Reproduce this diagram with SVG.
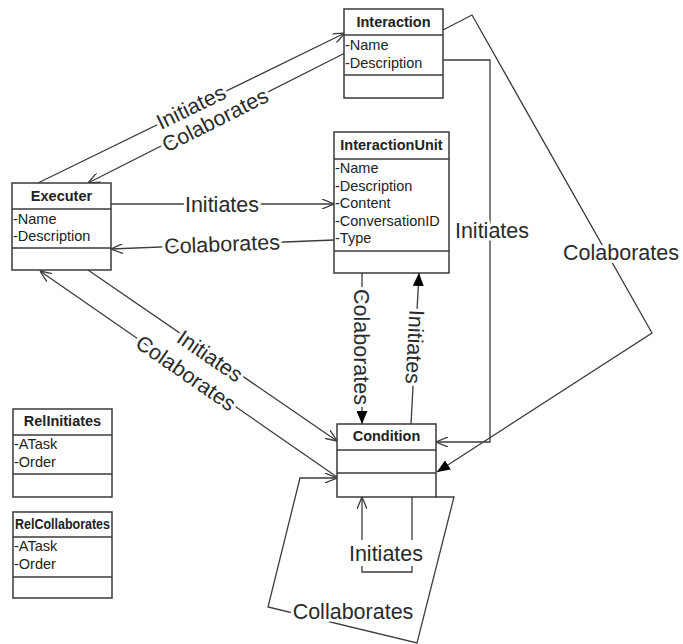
<svg xmlns="http://www.w3.org/2000/svg" width="683" height="644" viewBox="0 0 683 644">
<style>
.box{fill:#fff;stroke:#3a3a3a;stroke-width:1.5}
.div{stroke:#3a3a3a;stroke-width:1.5}
.hd{font-family:"Liberation Sans",Arial,sans-serif;font-weight:bold;font-size:14.5px;fill:#222;text-anchor:middle}
.at{font-family:"Liberation Sans",Arial,sans-serif;font-size:14.5px;fill:#222}
.ln{fill:none;stroke:#3c3c3c;stroke-width:1.3}
.lb{font-family:"Liberation Sans",Arial,sans-serif;font-size:21.5px;fill:#2a2a2a;text-anchor:middle;stroke:#fff;stroke-width:6;paint-order:stroke;stroke-linejoin:round}
</style>
<defs>
<marker id="open" viewBox="0 0 12 10" refX="12" refY="5" markerWidth="12" markerHeight="10" markerUnits="userSpaceOnUse" orient="auto"><path d="M0,0 L12,5 L0,10" fill="none" stroke="#3c3c3c" stroke-width="1.3"/></marker>
<marker id="fill" viewBox="0 0 13 11" refX="13" refY="5.5" markerWidth="13" markerHeight="11" markerUnits="userSpaceOnUse" orient="auto"><path d="M0,0 L13,5.5 L0,11 Z" fill="#000"/></marker>
</defs>
<rect width="683" height="644" fill="#fff"/>

<g id="connectors">
<path class="ln" d="M38,183 L345,33" marker-end="url(#open)"/>
<path class="ln" d="M345,53 L88,183" marker-end="url(#open)"/>
<path class="ln" d="M111,204 L334,204" marker-end="url(#open)"/>
<path class="ln" d="M334,240 L111,249" marker-end="url(#open)"/>
<path class="ln" d="M88,270 L337,441" marker-end="url(#open)"/>
<path class="ln" d="M337,477 L40,271" marker-end="url(#open)"/>
<path class="ln" d="M362,273 L362,424" marker-end="url(#fill)"/>
<path class="ln" d="M411,424 L419,273" marker-end="url(#fill)"/>
<path class="ln" d="M443,60 L490,60 L490,442 L436,442" marker-end="url(#open)"/>
<path class="ln" d="M443,30 L472,15 L652,333 L437,472" marker-end="url(#fill)"/>
<path class="ln" d="M412,497 L412,540"/>
<path class="ln" d="M412,566 L412,572 L362,572 L362,566"/>
<path class="ln" d="M362,540 L362,497" marker-end="url(#open)"/>
<path class="ln" d="M436,497 L454,497 L417,643 L268,607 L300,478 L337,478" marker-end="url(#open)"/>

<text class="lb" transform="translate(191,107) rotate(-26)" dy="0.35em">Initiates</text>
<text class="lb" transform="translate(215,120) rotate(-26.8)" dy="0.35em">Colaborates</text>
<text class="lb" x="222" y="204" dy="0.35em">Initiates</text>
<text class="lb" transform="translate(222,244) rotate(-2.3)" dy="0.35em">Colaborates</text>
<text class="lb" transform="translate(210,356) rotate(34.5)" dy="0.35em">Initiates</text>
<text class="lb" transform="translate(186,373) rotate(34.7)" dy="0.35em">Colaborates</text>
<text class="lb" transform="translate(362,347) rotate(90)" dy="0.35em">Colaborates</text>
<text class="lb" transform="translate(415,347) rotate(93)" dy="0.35em">Initiates</text>
<text class="lb" x="492" y="230" dy="0.35em">Initiates</text>
<text class="lb" x="621" y="252" dy="0.35em">Colaborates</text>
<text class="lb" x="386" y="553" dy="0.35em">Initiates</text>
<text class="lb" x="353" y="611" dy="0.35em">Collaborates</text>
</g>

<g id="interaction">
<rect class="box" x="344" y="9" width="99" height="89"/>
<line class="div" x1="344" y1="35" x2="443" y2="35"/>
<line class="div" x1="344" y1="75" x2="443" y2="75"/>
<text class="hd" x="393.5" y="27">Interaction</text>
<text class="at" x="345" y="50">-Name</text>
<text class="at" x="345" y="68">-Description</text>
</g>

<g id="interactionunit">
<rect class="box" x="334" y="132" width="115" height="141"/>
<line class="div" x1="334" y1="159" x2="449" y2="159"/>
<line class="div" x1="334" y1="251" x2="449" y2="251"/>
<text class="hd" x="391.5" y="150">InteractionUnit</text>
<text class="at" x="335" y="173">-Name</text>
<text class="at" x="335" y="190.5">-Description</text>
<text class="at" x="335" y="208">-Content</text>
<text class="at" x="335" y="225.5">-ConversationID</text>
<text class="at" x="335" y="243">-Type</text>
</g>

<g id="executer">
<rect class="box" x="12" y="183" width="99" height="87"/>
<line class="div" x1="12" y1="209" x2="111" y2="209"/>
<line class="div" x1="12" y1="248" x2="111" y2="248"/>
<text class="hd" x="61.5" y="201">Executer</text>
<text class="at" x="13" y="224">-Name</text>
<text class="at" x="13" y="241">-Description</text>
</g>

<g id="condition">
<rect class="box" x="337" y="424" width="99" height="73"/>
<line class="div" x1="337" y1="450" x2="436" y2="450"/>
<line class="div" x1="337" y1="473" x2="436" y2="473"/>
<text class="hd" x="386.5" y="441">Condition</text>
</g>

<g id="relinitiates">
<rect class="box" x="13" y="409" width="99" height="88"/>
<line class="div" x1="13" y1="435" x2="112" y2="435"/>
<line class="div" x1="13" y1="474" x2="112" y2="474"/>
<text class="hd" x="62.5" y="426">RelInitiates</text>
<text class="at" x="14" y="449">-ATask</text>
<text class="at" x="14" y="467">-Order</text>
</g>

<g id="relcollaborates">
<rect class="box" x="13" y="512" width="99" height="86"/>
<line class="div" x1="13" y1="537" x2="112" y2="537"/>
<line class="div" x1="13" y1="577" x2="112" y2="577"/>
<text class="hd" x="62.5" y="529" textLength="95" lengthAdjust="spacingAndGlyphs">RelCollaborates</text>
<text class="at" x="14" y="551">-ATask</text>
<text class="at" x="14" y="569">-Order</text>
</g>
</svg>
